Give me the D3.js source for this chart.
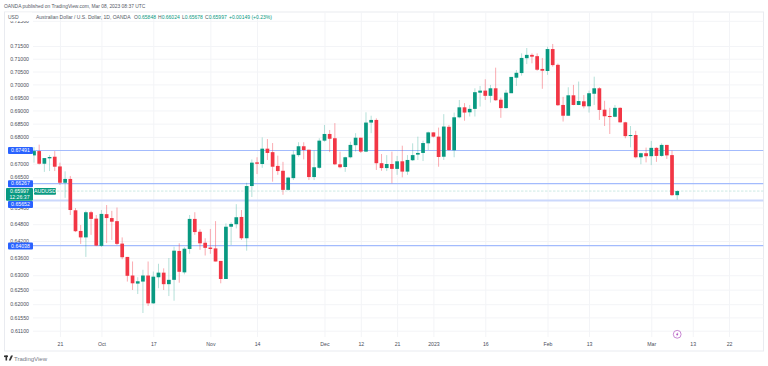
<!DOCTYPE html>
<html lang="en">
<head>
<meta charset="utf-8" />
<title>AUDUSD 1D</title>
<style>
  body{margin:0;background:#fff;font-family:"Liberation Sans",Arial,sans-serif;}
  svg{display:block}
  .grid line{stroke:#f3f4f7;stroke-width:1}
  .grid path{display:none}
  .grid text{font-size:5.2px;fill:#4a4e5a}
  .legend{font-size:5px;fill:#555a66}
  .val{fill:#089981}
  .tag{font-size:5.2px;fill:#fff}
</style>
<script src="https://cdn.jsdelivr.net/npm/d3@7.9.0/dist/d3.min.js"></script>
</head>
<body>
<svg id="chart" width="768" height="366"></svg>

<script>
/* ───────── DATA ───────── */
const opens = [
  .6731,.6747,.6700,.6720,.6726,.6690,.6630,.6644,.6530,.6456,
  .6433,.6523,.6500,.6403,.6516,.6502,.6491,.6411,.6364,.6299,
  .6271,.6278,.6299,.6203,.6293,.6309,.6269,.6284,.6385,.6310,
  .6392,.6499,.6453,.6414,.6397,.6394,.6350,.6287,.6471,.6480,
  .6506,.6430,.6618,.6705,.6699,.6756,.6743,.6692,.6674,.6604,
  .6647,.6732,.6765,.6752,.6651,.6685,.6786,.6811,.6795,.6698,
  .6688,.6724,.6769,.6797,.6745,.6854,.6864,.6702,.6684,.6699,
  .6681,.6709,.6671,.6713,.6734,.6740,.6776,.6817,.6801,.6726,
  .6838,.6750,.6874,.6912,.6893,.6906,.6968,.6976,.6956,.6985,
  .6941,.6909,.6966,.7026,.7044,.7102,.7115,.7110,.7060,.7052,
  .7138,.7076,.6921,.6880,.6958,.6921,.6935,.6916,.6964,.6985,
  .6903,.6879,.6876,.6910,.6855,.6804,.6807,.6724,.6739,.6728,
  .6759,.6729,.6770,.6732,.65848];
const highs = [
  .6762,.6771,.6721,.6732,.6747,.6704,.6672,.6655,.6538,.6477,
  .6529,.6528,.6513,.6531,.6549,.6528,.6540,.6433,.6364,.6348,
  .6293,.6319,.6348,.6313,.6340,.6324,.6360,.6400,.6412,.6398,
  .6513,.6523,.6462,.6430,.6463,.6491,.6350,.6483,.6487,.6552,
  .6531,.6630,.6716,.6724,.6798,.6792,.6777,.6730,.6707,.6652,
  .6749,.6780,.6780,.6752,.6749,.6795,.6845,.6826,.6852,.6745,
  .6726,.6782,.6814,.6797,.6893,.6880,.6870,.6736,.6732,.6745,
  .6729,.6767,.6732,.6776,.6801,.6786,.6820,.6817,.6835,.6886,
  .6845,.6892,.6940,.6928,.6921,.6985,.6994,.7020,.6998,.7065,
  .6949,.6979,.6966,.7056,.7121,.7142,.7121,.7121,.7103,.7147,
  .7158,.7081,.6952,.6989,.6998,.7011,.6959,.6976,.7030,.6989,
  .6937,.6910,.6921,.6912,.6857,.6841,.6823,.6741,.6760,.6785,
  .6761,.6776,.6770,.6749,.66024];
const lows = [
  .6704,.6697,.6670,.6673,.6673,.6622,.6575,.6513,.6452,.6410,
  .6364,.6442,.6402,.6399,.6413,.6424,.6406,.6356,.6278,.6249,
  .6235,.6170,.6194,.6201,.6255,.6249,.6228,.6212,.6274,.6303,
  .6375,.6442,.6389,.6369,.6375,.6348,.6272,.6287,.6406,.6465,
  .6424,.6386,.6578,.6662,.6685,.6714,.6634,.6659,.6586,.6601,
  .6640,.6726,.6716,.6640,.6640,.6681,.6782,.6743,.6695,.6683,
  .6670,.6720,.6745,.6740,.6743,.6814,.6677,.6674,.6673,.6628,
  .6659,.6650,.6659,.6710,.6714,.6710,.6751,.6798,.6689,.6714,
  .6749,.6724,.6870,.6861,.6877,.6877,.6915,.6940,.6930,.6937,
  .6872,.6907,.6966,.6994,.7034,.7079,.7082,.7053,.6983,.7037,
  .7069,.6917,.6858,.6879,.6920,.6920,.6908,.6892,.6921,.6864,
  .6841,.6811,.6874,.6854,.6795,.6761,.6720,.6698,.6705,.6695,
  .6707,.6726,.6718,.6582,.65678];
const closes = [
  .6747,.6700,.6721,.6725,.6689,.6630,.6644,.6531,.6455,.6433,
  .6523,.6499,.6404,.6517,.6502,.6489,.6410,.6363,.6298,.6272,
  .6279,.6299,.6203,.6295,.6309,.6269,.6284,.6386,.6312,.6393,
  .6499,.6452,.6412,.6396,.6392,.6348,.6287,.6471,.6481,.6505,
  .6430,.6618,.6704,.6700,.6756,.6740,.6689,.6673,.6604,.6649,
  .6734,.6765,.6751,.6651,.6687,.6786,.6811,.6793,.6698,.6687,
  .6724,.6770,.6797,.6745,.6854,.6864,.6702,.6684,.6699,.6681,
  .6709,.6671,.6714,.6732,.6740,.6777,.6817,.6801,.6725,.6839,
  .6751,.6874,.6912,.6892,.6906,.6970,.6976,.6956,.6985,.6939,
  .6909,.6968,.7029,.7045,.7103,.7115,.7108,.7057,.7053,.7138,
  .7075,.6920,.6880,.6958,.6921,.6936,.6916,.6966,.6985,.6902,
  .6878,.6875,.6910,.6855,.6803,.6807,.6724,.6739,.6728,.6759,
  .6729,.6770,.6731,.65848,.65997];

const priceTicks = [.725,.715,.71,.705,.7,.695,.69,.685,.68,.67,.665,.654,.648,.642,.636,.63,.625,.62,.6155,.611];
const levels = [.67491,.66267,.64038];
const zoneLevel = .65652;
const lastPrice = .65997;

// bar index of each date label (the last two sit past the final bar)
const dateIdx    = [5,13,23,34,43,56,63,70,77,87,99,107,119,127,134];
const dateLabels = ['21','Oct','17','Nov','14','Dec','12','21','2023','16','Feb','13','Mar','13','22'];

const legendVals = [['O','0.65848',134],['H','0.66024',158],['L','0.65678',182],['C','0.65997',205]];

/* ───────── SCALES ───────── */
const L = 33, R = 763.5, T = 12, B = 351;
const x = d3.scaleLinear([0,124],[34,677.2]);
const y = d3.scaleLog([.715,.611],[46,330.7]);
const svg = d3.select('#chart');

svg.append('defs').append('clipPath').attr('id','plot')
   .append('rect').attr('x',L).attr('y',T).attr('width',R-L).attr('height',B-T);

svg.append('rect').attr('x',4.5).attr('y',T).attr('width',R-4.5).attr('height',B-T)
   .attr('fill','#fff').attr('stroke','#e9ebf0');

/* grid + axes */
const axisY = d3.axisLeft(y).tickValues(priceTicks)
  .tickFormat(d=>d.toFixed(5)).tickSize(-(R-L)).tickPadding(4);
svg.append('g').attr('class','grid').attr('transform',`translate(${L},0)`).call(axisY);

const axisX = d3.axisBottom(x).tickValues(dateIdx)
  .tickFormat((d,i)=>dateLabels[i]).tickSize(-(337-T)).tickPadding(5.5);
svg.append('g').attr('class','grid').attr('transform','translate(0,337)').call(axisX);

// the topmost tick label is mostly hidden in the reference
svg.append('rect').attr('x',5).attr('y',T+.5).attr('width',27).attr('height',8.5).attr('fill','#fff');

/* plot layer */
const plot = svg.append('g').attr('clip-path','url(#plot)');

plot.selectAll('.level').data(levels).join('line').attr('class','level')
    .attr('x1',L).attr('x2',R).attr('y1',y).attr('y2',y)
    .attr('stroke','#a3bbfd').attr('stroke-width',1.2);
plot.append('line').attr('x1',L).attr('x2',R).attr('y1',y(zoneLevel)).attr('y2',y(zoneLevel))
    .attr('stroke','#cbd8fc').attr('stroke-width',2);
plot.append('line').attr('x1',L).attr('x2',R).attr('y1',y(lastPrice)).attr('y2',y(lastPrice))
    .attr('stroke','#bfe3dc').attr('stroke-width',.8).attr('stroke-dasharray','2.5 1.5');

/* candles */
const UP = '#089981', DOWN = '#f23645';
const candles = opens.map((o,i)=>({i,o,h:highs[i],l:lows[i],c:closes[i]}));
const cg = plot.selectAll('.candle').data(candles).join('g').attr('class','candle');
cg.append('line')
  .attr('x1',d=>x(d.i)).attr('x2',d=>x(d.i))
  .attr('y1',d=>y(d.h)).attr('y2',d=>y(d.l))
  .attr('stroke',d=>d.c>=d.o?UP:DOWN)
  .attr('stroke-opacity',d=>d.c>=d.o?.3:.42)
  .attr('stroke-width',1);
cg.append('rect')
  .attr('x',d=>x(d.i)-1.85).attr('width',3.7)
  .attr('y',d=>y(Math.max(d.o,d.c)))
  .attr('height',d=>Math.max(1,Math.abs(y(d.o)-y(d.c))))
  .attr('fill',d=>d.c>=d.o?UP:DOWN);

/* price tags on the axis */
function tag(yc,h,x0,w,fill,lines){
  svg.append('rect').attr('x',x0).attr('y',yc-h/2).attr('width',w).attr('height',h)
     .attr('rx',1).attr('fill',fill);
  lines.forEach((t,k)=>{
    svg.append('text').attr('class','tag')
       .attr('x',x0+w/2).attr('y',yc+(k-(lines.length-1)/2)*5.8+1.8)
       .attr('text-anchor','middle').text(t);
  });
}
tag(y(.67491),7,8,25,'#2962ff',['0.67491']);
tag(y(.66267),7,8,25,'#2962ff',['0.66267']);
tag(y(.64038)+.4,7,8,25,'#2962ff',['0.64038']);
tag(204.5,7,8,25,'#2962ff',['0.65652']);
tag(194.4,12.6,6,27,UP,['0.65997','12:26:37']);
tag(191.4,6.8,34,22,UP,['AUDUSD']);

/* header + legend */
svg.append('text').attr('x',4).attr('y',8).attr('font-size',4.9).attr('fill','#555a66')
   .text('OANDA published on TradingView.com, Mar 08, 2023 08:37 UTC');
svg.append('text').attr('class','legend').attr('x',8).attr('y',19).text('USD');
svg.append('text').attr('class','legend').attr('x',36).attr('y',19)
   .text('Australian Dollar / U.S. Dollar, 1D, OANDA');
legendVals.forEach(([k,v,px])=>{
  const t = svg.append('text').attr('class','legend').attr('x',px).attr('y',19).text(k);
  t.append('tspan').attr('class','val').text(v);
});
svg.append('text').attr('class','legend val').attr('x',229).attr('y',19).text('+0.00149 (+0.23%)');

/* event marker */
const ev = svg.append('g').attr('transform',`translate(${x(124)},334.3)`);
ev.append('circle').attr('r',3.9).attr('fill','#fff').attr('stroke','#ba68c8').attr('stroke-width',.8);
ev.append('path').attr('d','M.7 -2.4 L-1.3 .4 H-.1 L-.7 2.4 L1.3 -.5 H.1 Z').attr('fill','#ab47bc');

/* TradingView footer */
const logo = svg.append('g').attr('transform','translate(4,355.5)').attr('fill','#333');
logo.append('rect').attr('width',4).attr('height',1.6);
logo.append('rect').attr('x',1.5).attr('width',1.6).attr('height',5);
logo.append('path').attr('d','M4.8 5 L7 0 H9 L6.6 5 Z');
svg.append('text').attr('x',14).attr('y',361).attr('font-size',6).attr('fill','#777b86').text('TradingView');
</script>
</body>
</html>
